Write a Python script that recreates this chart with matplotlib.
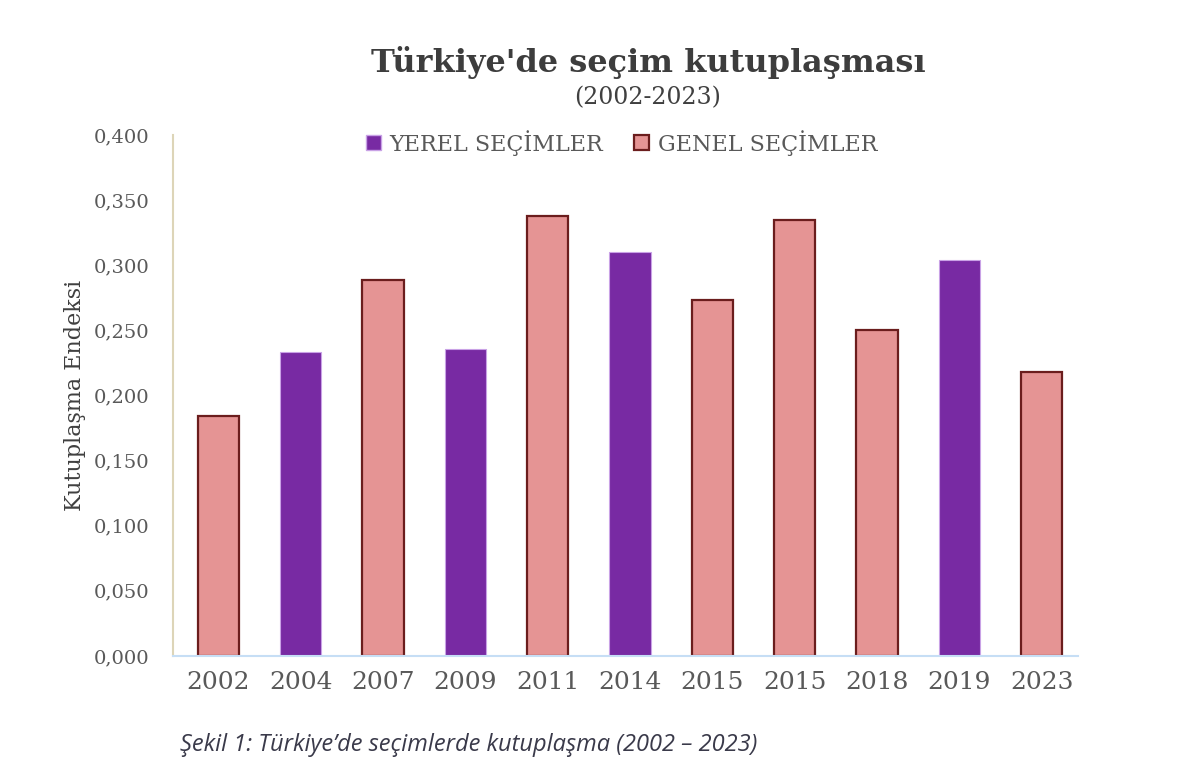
import matplotlib
matplotlib.use('Agg')
import matplotlib.pyplot as plt
import numpy as np
from matplotlib.patches import Patch

years = ['2002', '2004', '2007', '2009', '2011', '2014', '2015', '2015', '2018', '2019', '2023']
values = [0.184, 0.233, 0.289, 0.236, 0.338, 0.310, 0.273, 0.335, 0.250, 0.304, 0.218]
kinds = ['GENEL', 'YEREL', 'GENEL', 'YEREL', 'GENEL', 'YEREL', 'GENEL', 'GENEL', 'GENEL', 'YEREL', 'GENEL']
yticks = [0.0, 0.05, 0.10, 0.15, 0.20, 0.25, 0.30, 0.35, 0.40]

purple = '#782aa3'
purple_edge = '#c9a2e6'
pink = '#e59494'
pink_edge = '#6b1d1d'
serif = 'DejaVu Serif'

fig = plt.figure(figsize=(12, 7.8), dpi=100)
ax = fig.add_axes([0.1442, 0.159, 0.7541, 0.668])

x = np.arange(len(years))
for xi, v, k in zip(x, values, kinds):
    if k == 'YEREL':
        ax.bar(xi, v, width=0.5, color=purple, edgecolor=purple_edge, linewidth=0.8)
    else:
        ax.bar(xi, v, width=0.5, color=pink, edgecolor=pink_edge, linewidth=1.6)

ax.set_xlim(-0.55, len(years) - 0.56)
ax.set_ylim(0, 0.4)
ax.set_yticks(yticks)
ax.set_yticklabels(['{:.3f}'.format(t).replace('.', ',') for t in yticks],
                   fontfamily=serif, fontsize=14, color='#595959')
ax.set_xticks(x)
ax.set_xticklabels(years, fontfamily=serif, fontsize=18, color='#595959')
ax.tick_params(axis='both', length=0)
ax.tick_params(axis='y', pad=17)
ax.tick_params(axis='x', pad=11)

for s in ['top', 'right']:
    ax.spines[s].set_visible(False)
ax.spines['left'].set_color('#ddd5b8')
ax.spines['left'].set_linewidth(1.5)
ax.spines['bottom'].set_color('#c6def5')
ax.spines['bottom'].set_linewidth(1.5)

ax.set_ylabel('Kutuplaşma Endeksi', fontfamily=serif, fontsize=16, color='#404040')
ax.yaxis.set_label_coords(-0.096, 0.5)

fig.text(0.54, 0.92, "Türkiye'de seçim kutuplaşması", ha='center', va='center',
         fontfamily=serif, fontsize=23, fontweight='bold', color='#3d3d3d')
fig.text(0.54, 0.875, '(2002-2023)', ha='center', va='center',
         fontfamily=serif, fontsize=17, color='#404040')

handles = [Patch(facecolor=purple, edgecolor=purple_edge, label='YEREL SEÇİMLER'),
           Patch(facecolor=pink, edgecolor=pink_edge, linewidth=1.6, label='GENEL SEÇİMLER')]
leg = fig.legend(handles=handles, loc='center', bbox_to_anchor=(0.518, 0.817), ncol=2,
                 frameon=False, prop={'family': serif, 'size': 16},
                 handlelength=0.65, handleheight=0.65, handletextpad=0.4, columnspacing=1.4)
for t in leg.get_texts():
    t.set_color('#595959')

fig.text(0.15, 0.045, 'Şekil 1: Türkiye’de seçimlerde kutuplaşma (2002 – 2023)',
         ha='left', va='center', fontfamily=['Open Sans', 'DejaVu Sans'], style='italic',
         fontsize=17, color='#3a3a4a')

fig.savefig('out.png', dpi=100, facecolor='white')
